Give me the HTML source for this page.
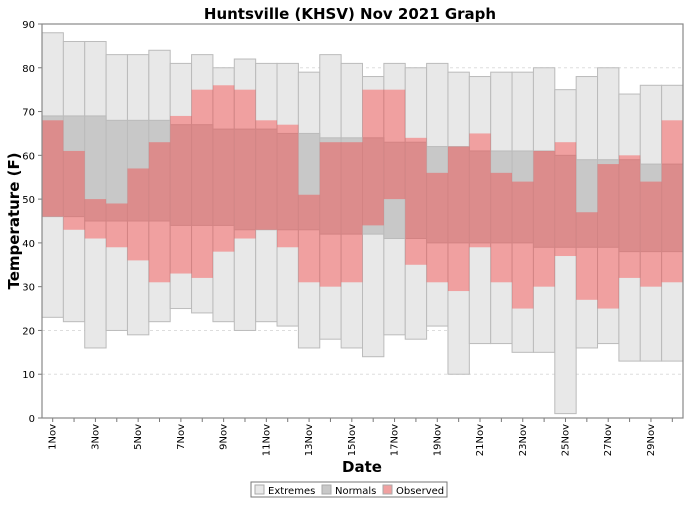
<!DOCTYPE html>
<html><head><meta charset="utf-8"><style>
body{margin:0;background:#fff;font-family:"Liberation Sans","DejaVu Sans",sans-serif}
</style></head><body>
<svg id="chart" width="700" height="500" xmlns="http://www.w3.org/2000/svg" style="font-family:'DejaVu Sans','Liberation Sans',sans-serif">
<rect width="700" height="500" fill="#fff"/>
<text x="350" y="19" text-anchor="middle" font-size="15" font-weight="bold">Huntsville (KHSV) Nov 2021 Graph</text>
<text transform="translate(19,221) rotate(-90)" text-anchor="middle" font-size="15" font-weight="bold">Temperature (F)</text>
<text x="362" y="472" text-anchor="middle" font-size="15" font-weight="bold">Date</text>
<g id="grid"></g><g id="bars"></g><g id="axes"></g>
<g>
<rect x="251" y="482" width="196" height="15" fill="#fff" stroke="#777"/>
<rect x="255" y="485" width="9" height="9" fill="#e8e8e8" stroke="#aaa"/>
<text x="268" y="494" font-size="10">Extremes</text>
<rect x="322" y="485" width="9" height="9" fill="#c8c8c8" stroke="#aaa"/>
<text x="335" y="494" font-size="10">Normals</text>
<rect x="383" y="485" width="9" height="9" fill="#f0a0a0" stroke="#aaa"/>
<text x="396" y="494" font-size="10">Observed</text>
</g>
</svg>
<script>
const days=[1,2,3,4,5,6,7,8,9,10,11,12,13,14,15,16,17,18,19,20,21,22,23,24,25,26,27,28,29,30];
const extHigh=[88,86,86,83,83,84,81,83,80,82,81,81,79,83,81,78,81,80,81,79,78,79,79,80,75,78,80,74,76,76];
const extLow=[23,22,16,20,19,22,25,24,22,20,22,21,16,18,16,14,19,18,21,10,17,17,15,15,1,16,17,13,13,13];
const normHigh=[69,69,69,68,68,68,67,67,66,66,66,65,65,64,64,64,63,63,62,62,61,61,61,61,60,59,59,59,58,58];
const normLow=[46,46,45,45,45,45,44,44,44,43,43,43,43,42,42,42,41,41,40,40,40,40,40,39,39,39,39,38,38,38];
const obsHigh=[68,61,50,49,57,63,69,75,76,75,68,67,51,63,63,75,75,64,56,62,65,56,54,61,63,47,58,60,54,68];
const obsLow=[46,43,41,39,36,31,33,32,38,41,43,39,31,30,31,44,50,35,31,29,39,31,25,30,37,27,25,32,30,31];
const yTicks=[0,10,20,30,40,50,60,70,80,90];
const L=42,R=683,T=24,B=418,ymax=90;
const bw=(R-L)/days.length;
const y=v=>B-v*(B-T)/ymax;
const x=d=>L+(d-1)*bw;
const NS="http://www.w3.org/2000/svg";
function mk(tag,attrs,parent){const e=document.createElementNS(NS,tag);for(const k in attrs)e.setAttribute(k,attrs[k]);parent.appendChild(e);return e;}
const grid=document.getElementById('grid'),bars=document.getElementById('bars'),axes=document.getElementById('axes');
yTicks.forEach(t=>{
 if(t>0&&t<90){const g=mk('line',{x1:L,x2:R,y1:y(t),y2:y(t),stroke:'#ddd','stroke-dasharray':'3,3'},grid);
 
 }
 const tk=mk('line',{x1:L-4,x2:L,y1:y(t),y2:y(t),stroke:'#777'},axes);
 
 
 const lb=mk('text',{x:L-7,y:y(t)+4,'text-anchor':'end','font-size':'10'},axes);
 lb.textContent=t;
 
 
});
days.forEach((d,i)=>{
 const x0=x(d);
 const e=mk('rect',{x:x0,y:y(extHigh[i]),width:bw,height:y(extLow[i])-y(extHigh[i]),fill:'#e8e8e8',stroke:'#bbb'},bars);
 
 
});
days.forEach((d,i)=>{
 const x0=x(d);
 const n=mk('rect',{x:x0,y:y(normHigh[i]),width:bw,height:y(normLow[i])-y(normHigh[i]),fill:'#c8c8c8',stroke:'#bbb'},bars);
 
 
});
days.forEach((d,i)=>{
 const x0=x(d);
 const o=mk('rect',{x:x0,y:y(obsHigh[i]),width:bw,height:y(obsLow[i])-y(obsHigh[i]),fill:'rgb(253,40,40)','fill-opacity':'0.375'},bars);
 
 
 const tk=mk('line',{x1:x0+bw/2,x2:x0+bw/2,y1:B,y2:B+4,stroke:'#777'},axes);
 
 
 if(d%2===1){
  const cx=x0+bw/2+3;
  const lb=mk('text',{transform:`translate(${cx},${B+6}) rotate(-90)`,'text-anchor':'end','font-size':'10'},axes);
  lb.textContent=d+'Nov';
  
  
 }
});
const fr=mk('rect',{x:L,y:T,width:R-L,height:B-T,fill:'none',stroke:'#888','stroke-width':'1.2'},axes);


</script>
</body></html>
